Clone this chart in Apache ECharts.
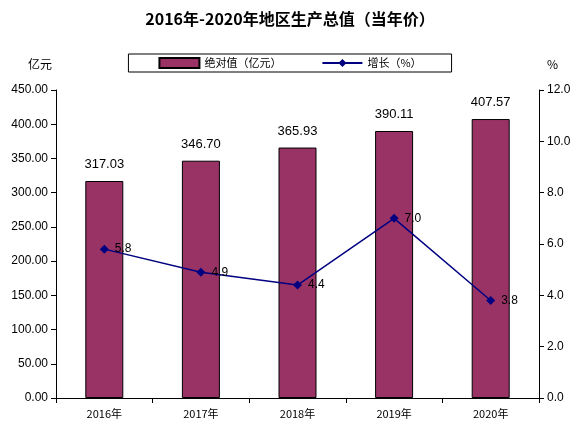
<!DOCTYPE html>
<html><head><meta charset="utf-8">
<script src="https://cdn.jsdelivr.net/npm/echarts@6/dist/echarts.min.js"></script>
<style>html,body{margin:0;padding:0;background:#fff}#c{width:580px;height:438px}</style>
</head><body><div id="c"></div>
<script>
const categories = ['2016年','2017年','2018年','2019年','2020年'];
const values = [317.03, 346.70, 365.93, 390.11, 407.57];
const growth = [5.8, 4.9, 4.4, 7.0, 3.8];
const chart = echarts.init(document.getElementById('c'));
const f = '"Noto Sans CJK SC", sans-serif';
chart.setOption({
  backgroundColor:'#fff',
  animation:false,
  title:{text:'2016年-2020年地区生产总值（当年价）',left:'center',top:6,
    textStyle:{fontFamily:'"Noto Sans CJK SC", serif',fontSize:16,fontWeight:'bold',color:'#000'}},
  legend:{top:54,left:'center',itemGap:40,borderColor:'#000',borderWidth:1,padding:[3,30,3,30],
    textStyle:{fontFamily:f,fontSize:11,color:'#000'},itemWidth:40,itemHeight:10,
    data:[{name:'绝对值（亿元）',icon:'rect'},{name:'增长（%）'}]},
  grid:{left:56,right:41,top:90,bottom:40},
  xAxis:{type:'category',data:categories,
    axisLine:{lineStyle:{color:'#000'}},axisTick:{show:true,lineStyle:{color:'#000'}},
    axisLabel:{color:'#000',fontFamily:f,fontSize:11,margin:10}},
  yAxis:[
    {type:'value',min:0,max:450,interval:50,name:'亿元',nameLocation:'end',nameGap:20,
     nameTextStyle:{color:'#000',fontFamily:f,fontSize:12,align:'right',padding:[0,4,0,0]},
     axisLine:{show:true,lineStyle:{color:'#000'}},axisTick:{show:true,inside:false},
     splitLine:{show:false},
     axisLabel:{color:'#000',fontFamily:'"Liberation Sans",sans-serif',fontSize:12,formatter:v=>v.toFixed(2)}},
    {type:'value',min:0,max:12,interval:2,name:'%',nameLocation:'end',nameGap:20,
     nameTextStyle:{color:'#000',fontFamily:f,fontSize:12,align:'left',padding:[0,0,0,8]},
     axisLine:{show:true,lineStyle:{color:'#000'}},axisTick:{show:true},
     splitLine:{show:false},
     axisLabel:{color:'#000',fontFamily:'"Liberation Sans",sans-serif',fontSize:12,formatter:v=>v.toFixed(1)}}
  ],
  series:[
    {name:'绝对值（亿元）',type:'bar',data:values,barWidth:38,
     itemStyle:{color:'#993366',borderColor:'#000',borderWidth:1},
     label:{show:true,position:'top',distance:10,color:'#000',fontFamily:'"Liberation Sans",sans-serif',fontSize:13,formatter:p=>p.value.toFixed(2)}},
    {name:'增长（%）',type:'line',yAxisIndex:1,data:growth,symbol:'diamond',symbolSize:9,
     lineStyle:{color:'#000080',width:1.5},itemStyle:{color:'#000080'},
     label:{show:true,position:'right',distance:6,color:'#000',fontFamily:'"Liberation Sans",sans-serif',fontSize:12,formatter:p=>p.value.toFixed(1)}}
  ]
});
</script></body></html>
